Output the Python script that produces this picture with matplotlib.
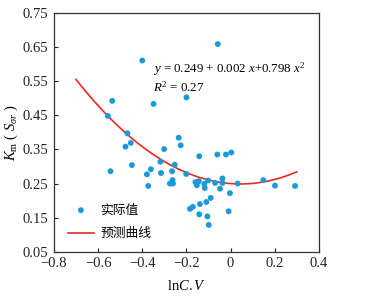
import matplotlib
matplotlib.use("Agg")
import matplotlib.pyplot as plt
import numpy as np

plt.rcParams['font.family'] = ['Liberation Serif', 'Noto Sans CJK SC']
plt.rcParams['mathtext.fontset'] = 'custom'
plt.rcParams['mathtext.rm'] = 'Liberation Serif'
plt.rcParams['mathtext.it'] = 'Liberation Serif:italic'

# Observed points (lnC.V, Km)
x_obs = [-0.058, -0.400, -0.200, -0.536, -0.349, -0.556, -0.467, -0.452, -0.476,
         -0.235, -0.226, -0.301, -0.447, -0.544, -0.318, -0.361, -0.379, -0.373,
         -0.315, -0.253, -0.265, -0.263, -0.275, -0.261, -0.201, -0.142, -0.060,
         -0.021, 0.003, -0.159, -0.153, -0.144, -0.119, -0.117, -0.102, -0.070,
         -0.037, -0.037, -0.048, -0.003, 0.032, 0.148, 0.201, 0.292, -0.090,
         -0.110, -0.139, -0.171, -0.184, -0.142, -0.105, -0.099, -0.009, -0.151]
y_obs = [0.658, 0.610, 0.502, 0.492, 0.483, 0.448, 0.397, 0.369, 0.358,
         0.384, 0.362, 0.351, 0.304, 0.286, 0.314, 0.292, 0.277, 0.243,
         0.281, 0.305, 0.286, 0.260, 0.250, 0.250, 0.278, 0.330, 0.335,
         0.335, 0.341, 0.254, 0.245, 0.257, 0.249, 0.237, 0.259, 0.252,
         0.265, 0.252, 0.235, 0.222, 0.250, 0.260, 0.244, 0.243, 0.208,
         0.196, 0.190, 0.182, 0.176, 0.160, 0.154, 0.129, 0.169, 0.254]

# Predicted curve (quadratic coefficients as drawn)
curve_coef = [0.250, -0.050, 0.55]   # c0, c1, c2
curve_range = [-0.70, 0.30]

x_ticks = [-0.8, -0.6, -0.4, -0.2, 0, 0.2, 0.4]
x_ticklabels = ['\u22120.8', '\u22120.6', '\u22120.4', '\u22120.2', '0', '0.2', '0.4']
y_ticks = [0.05, 0.15, 0.25, 0.35, 0.45, 0.55, 0.65, 0.75]
y_ticklabels = ['0.05', '0.15', '0.25', '0.35', '0.45', '0.55', '0.65', '0.75']

fig = plt.figure(figsize=(3.67, 3.01), dpi=100)
ax = fig.add_axes([0.147, 0.163, 0.722, 0.795])

ax.scatter(x_obs, y_obs, s=18, color='#1a9ad8', edgecolors='none', zorder=3, label='实际值')
xc = np.linspace(curve_range[0], curve_range[1], 200)
yc = curve_coef[0] + curve_coef[1] * xc + curve_coef[2] * xc ** 2
ax.plot(xc, yc, color='#f0281e', lw=1.2, zorder=2, label='预测曲线')

ax.set_xlim(-0.8, 0.4)
ax.set_ylim(0.05, 0.75)
ax.set_xticks(x_ticks)
ax.set_xticklabels(x_ticklabels)
ax.set_yticks(y_ticks)
ax.set_yticklabels(y_ticklabels)
ax.tick_params(direction='in', length=3, width=0.8, labelsize=10.5, pad=4, colors='#222222')
for sp in ax.spines.values():
    sp.set_linewidth(0.9)
    sp.set_color('#333333')

ax.set_xlabel('ln$\\mathit{C.V}$', fontsize=10.5, labelpad=6)
ax.set_ylabel('$K_{\\rm m}$ ( $S_{\\sigma r}$ )', fontsize=10.5, labelpad=2)

ax.text(0.375, 0.765, '$y$ = 0.249 + 0.002 $x$+0.798 $x^2$', transform=ax.transAxes,
        fontsize=9.3, va='center', ha='left')
ax.text(0.375, 0.69, '$R^2$ = 0.27', transform=ax.transAxes,
        fontsize=9.3, va='center', ha='left')

leg = ax.legend(loc='lower left', bbox_to_anchor=(0.01, 0.0), frameon=False,
                prop={'family': ['Noto Sans CJK SC'], 'size': 9.2},
                handlelength=2.0, handletextpad=0.5, labelspacing=0.85)

fig.savefig('out.png', dpi=100)
